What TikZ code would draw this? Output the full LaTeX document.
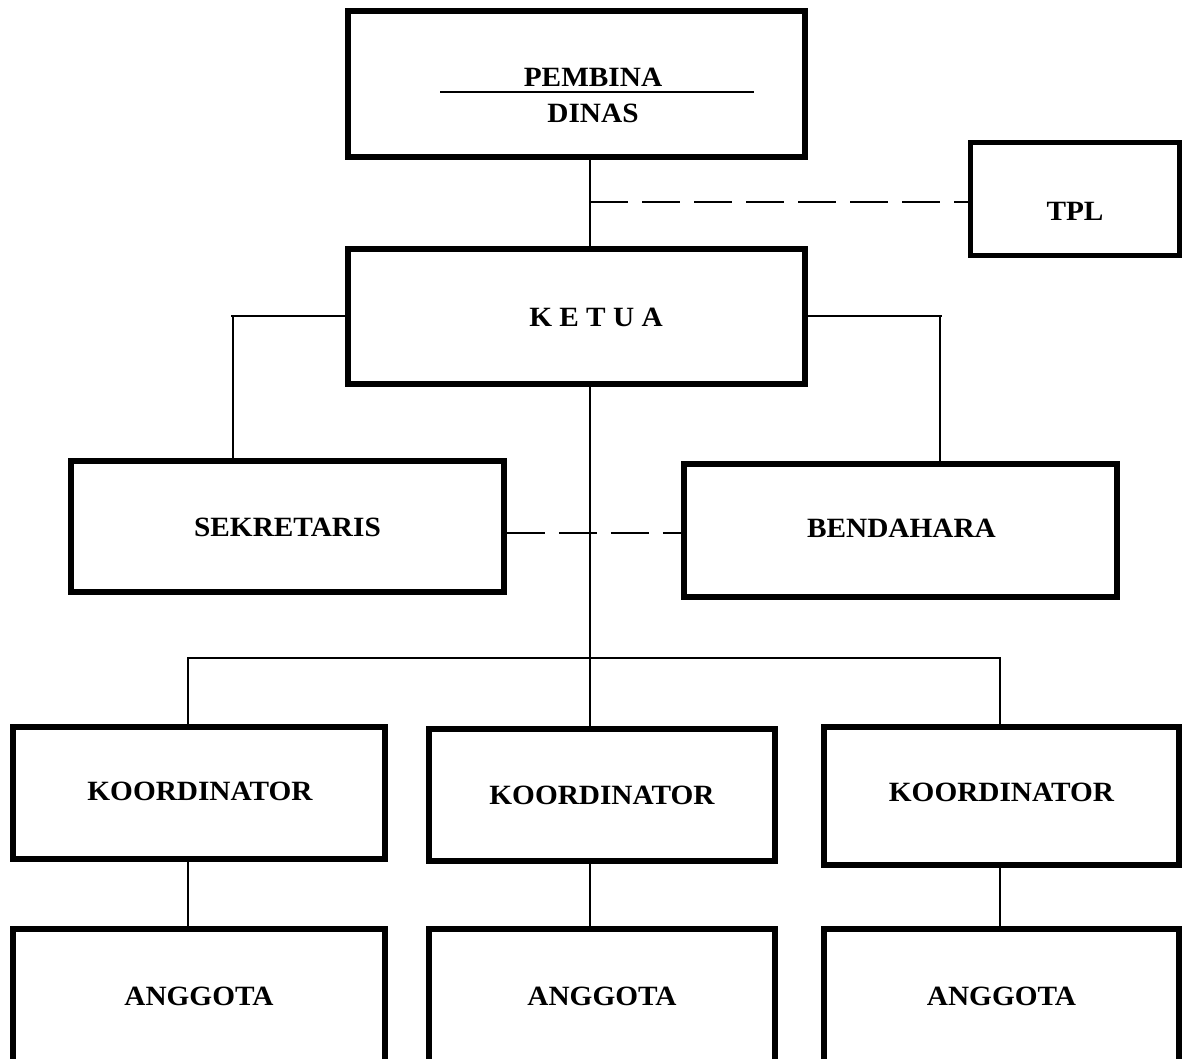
\documentclass[tikz,border=0pt]{standalone}
\usepackage{fontspec}
\setmainfont{Liberation Serif}[FakeStretch=1.05]
\begin{document}
\begin{tikzpicture}[x=1bp,y=-1bp,
  box/.style={draw,line width=5.5bp,rectangle,inner sep=0pt},
  lbl/.style={inner sep=0pt,font=\fontsize{28}{30}\selectfont\bfseries},
  conn/.style={line width=1.5bp},
  dconn/.style={line width=1.5bp,dash pattern=on 38bp off 14bp}]
\useasboundingbox (0,0) rectangle (1196,1059);
\begin{scope}
\clip (0,0) rectangle (1196,1059);
\node[box,minimum width=457bp,minimum height=146bp] (pembina) at (576.5,84) {};
\node[lbl] (pembinatxt) at (593,77.5) {PEMBINA};
\node[lbl] (dinastxt) at (593,113) {DINAS};
\draw[conn] (440,92) -- (754,92);
\node[box,minimum width=209bp,minimum height=113bp] (tpl) at (1075,199) {};
\node[lbl] (tpltxt) at (1075,211) {TPL};
\node[box,minimum width=457bp,minimum height=135bp] (ketua) at (576.5,316.5) {};
\node[lbl] (ketuatxt) at (596,317) {K E T U A};
\node[box,minimum width=433bp,minimum height=131bp] (sekr) at (287.5,526.5) {};
\node[lbl] (sekrtxt) at (287.5,527) {SEKRETARIS};
\node[box,minimum width=433bp,minimum height=133bp] (bend) at (900.5,530.5) {};
\node[lbl] (bendtxt) at (901.5,528) {BENDAHARA};
\node[box,minimum width=372bp,minimum height=132bp] (k1) at (199,793) {};
\node[lbl] (k1txt) at (200,791) {KOORDINATOR};
\node[box,minimum width=346bp,minimum height=132bp] (k2) at (602,795) {};
\node[lbl] (k2txt) at (602,795) {KOORDINATOR};
\node[box,minimum width=355bp,minimum height=138bp] (k3) at (1001.5,796) {};
\node[lbl] (k3txt) at (1001.5,792) {KOORDINATOR};
\node[box,minimum width=372bp,minimum height=141bp] (a1) at (199,999.5) {};
\node[lbl] (a1txt) at (199,996) {ANGGOTA};
\node[box,minimum width=346bp,minimum height=141bp] (a2) at (602,999.5) {};
\node[lbl] (a2txt) at (602,996) {ANGGOTA};
\node[box,minimum width=355bp,minimum height=141bp] (a3) at (1001.5,999.5) {};
\node[lbl] (a3txt) at (1001.5,996) {ANGGOTA};
\end{scope}
% junction coordinates
\coordinate (jtpl) at (590,202);
\coordinate (jsek) at (233,316);
\coordinate (jben) at (940,316);
\coordinate (jbus) at (590,658);
\coordinate (jbl) at (188,658);
\coordinate (jbr) at (1000,658);
\coordinate (jdash) at (590,533);
% connectors
\draw[conn] (jtpl |- pembina.south) -- ([yshift=-4bp]jtpl |- ketua.north);
\draw[dconn] (jtpl) -- (jtpl -| tpl.west);
\draw[conn] (jsek -| ketua.west) -- ([xshift=-2bp]jsek) (jsek) -- (jsek |- sekr.north);
\draw[conn] (jben -| ketua.east) -- ([xshift=2bp]jben) (jben) -- (jben |- bend.north);
\draw[conn] (jbus |- ketua.south) -- (jbus |- k2.north);
\draw[conn] (jbl |- k1.north) -- (jbl) -- (jbr) -- (jbr |- k3.north);
\draw[dconn] (jdash -| sekr.east) -- (jdash -| bend.west);
\draw[conn] (jbl |- k1.south) -- (jbl |- a1.north);
\draw[conn] (jbus |- k2.south) -- (jbus |- a2.north);
\draw[conn] (jbr |- k3.south) -- (jbr |- a3.north);
\end{tikzpicture}
\end{document}
